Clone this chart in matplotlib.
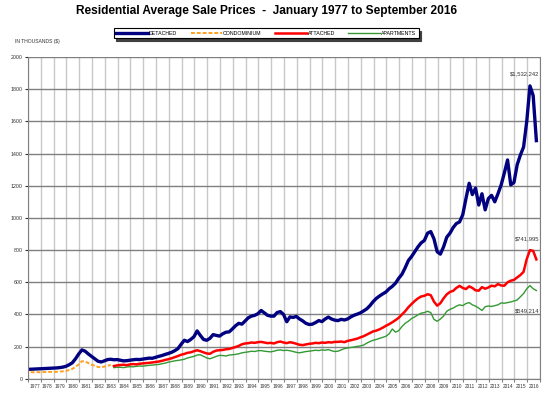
import matplotlib
matplotlib.use("Agg")
import matplotlib.pyplot as plt
import numpy as np

plt.rcParams["font.family"] = ["Liberation Sans", "DejaVu Sans"]

# quarterly averages (thousands $), quarter-end months Mar/Jun/Sep/Dec
detached = [
    60, 61, 62, 63,  64, 65, 66, 67,  68, 70, 73, 78,  88, 100, 125, 155,
    180, 172, 155, 140,  125, 110, 105, 112,  120, 122, 119, 120,  116, 112, 113, 116,
    119, 121, 120, 123,  126, 129, 128, 134,  140, 145, 152, 158,  165, 175, 188, 215,
    240, 232, 245, 262,  298, 270, 245, 240,  252, 275, 270, 266,  280, 290, 292, 310,
    330, 345, 340, 360,  380, 390, 395, 405,  425, 410, 395, 390,  390, 412, 418, 400,
    355, 385, 382, 388,  372, 360, 345, 338,  340, 350, 362, 356,  372, 384, 372, 365,
    362, 370, 366, 372,  385, 395, 402, 410,  422, 435, 455, 480,  500, 515, 528, 540,
    560, 575, 595, 625,  650, 690, 735, 760,  790, 820, 845, 860,  905, 915, 870, 790,
    775, 820, 880, 905,  940, 965, 975, 1020,  1120, 1215, 1145, 1185,  1080, 1150, 1050, 1120,
    1140, 1100, 1150, 1205,  1280, 1360, 1205, 1220,  1330, 1390, 1440, 1600,  1820, 1760, 1480,
]
condominium = [
    42, 41, 42, 41,  43, 42, 44, 43,  44, 45, 47, 50,  55, 62, 75, 90,
    110, 108, 98, 88,  82, 74, 72, 76,  82, 86,
]
attached = [
    80, 84,
    86, 88, 85, 90,  92, 90, 94, 96,  98, 100, 102, 105,  108, 112, 118, 122,
    128, 135, 142, 150,  155, 162, 165, 172,  178, 172, 165, 158,  156, 168, 176, 178,
    180, 184, 186, 192,  198, 205, 215, 220,  222, 226, 224, 228,  230, 226, 222, 224,
    220, 228, 232, 226,  222, 228, 224, 218,  212, 210, 214, 218,  220, 224, 222, 226,
    224, 228, 226, 230,  230, 232, 228, 236,  240, 245, 250, 258,  265, 275, 285, 295,
    300, 308, 318, 330,  340, 352, 365, 380,  400, 420, 445, 465,  484, 500, 512, 516,
    526, 520, 480, 455,  470, 500, 525, 540,  547, 565, 578, 565,  558, 575, 565, 550,
    548, 570, 560, 568,  579, 575, 589, 580,  579, 600, 610, 615,  630, 645, 665, 745,
    800, 795, 742,
]
apartments = [
    70, 72,
    72, 70, 74, 76,  75, 78, 80, 79,  82, 84, 86, 88,  90, 94, 98, 104,
    108, 112, 115, 118,  122, 130, 135, 140,  148, 150, 140, 130,  125, 132, 140, 146,
    145, 142, 148, 150,  152, 156, 162, 165,  168, 172, 170, 175,  176, 172, 170, 168,
    172, 178, 180, 176,  178, 175, 170, 165,  162, 166, 170, 172,  175, 178, 176, 180,
    178, 182, 175, 170,  172, 180, 188, 192,  195, 198, 202, 205,  210, 222, 232, 240,
    245, 252, 258, 265,  280, 310, 290, 300,  325, 345, 358, 375,  385, 398, 408, 412,
    420, 412, 370, 358,  372, 390, 420, 432,  440, 452, 460, 455,  468, 474, 460, 452,
    440, 425, 448, 453,  450, 455, 460, 472,  470, 474, 478, 484,  490, 510, 530, 560,
    580, 560, 549,
]

years = list(range(1977, 2017))
end_labels = ["$1,532,242", "$741,995", "$549,214"]


def quarter_times(start_year, start_q, n):
    # decimal year at the end month of each quarter
    q = np.arange(n) + start_q
    return start_year + (3 * q + 2.5) / 12


t_det = quarter_times(1977, 0, len(detached))
t_condo = quarter_times(1977, 0, len(condominium))
t_att = quarter_times(1983, 2, len(attached))
t_apt = quarter_times(1983, 2, len(apartments))

fig = plt.figure(figsize=(5.5, 3.98), dpi=100)
ax = fig.add_axes([0.051, 0.048, 0.931, 0.809])

ax.plot(t_det, detached, color="#000080", lw=2.4, label="DETACHED", zorder=5)
ax.plot(t_condo, condominium, color="#FFA020", lw=1.4, ls=(0, (2, 1)), label="CONDOMINIUM", zorder=4)
ax.plot(t_att, attached, color="#FF0000", lw=1.8, label="ATTACHED", zorder=4)
ax.plot(t_apt, apartments, color="#339933", lw=1.0, label="APARTMENTS", zorder=3)

ax.set_xlim(1977, 2017)
ax.set_ylim(0, 2000)
ax.set_yticks(np.arange(0, 2001, 200))
ax.set_yticklabels([str(v) for v in range(0, 2001, 200)])
ax.set_xticks(np.arange(1977, 2018), minor=False)
ax.set_xticklabels([])
ax.set_xticks(np.array(years) + 0.5, minor=True)
ax.set_xticklabels([str(y) for y in years], minor=True)
ax.tick_params(axis="x", which="minor", length=0, labelsize=3.4, pad=4, colors="#333333")
ax.tick_params(axis="x", which="major", length=2, color="#808080")
ax.tick_params(axis="y", length=2, labelsize=3.8, pad=2, colors="#333333")

ax.grid(axis="y", color="#808080", lw=1.0, zorder=0)
ax.grid(axis="x", which="major", color="#c8c8c8", lw=1.0, zorder=0)
ax.set_axisbelow(True)
for side in ["top"]:
    ax.spines[side].set_visible(False)
for side in ["left", "bottom", "right"]:
    ax.spines[side].set_color("#808080")

ax.text(2016.95, 1895, end_labels[0], ha="right", va="center", fontsize=4.2, color="#333333")
ax.text(2016.95, 872, end_labels[1], ha="right", va="center", fontsize=4.2, color="#333333")
ax.text(2016.95, 420, end_labels[2], ha="right", va="center", fontsize=4.2, color="#333333")

fig.text(0.484, 0.972, "Residential Average Sale Prices  -  January 1977 to September 2016",
         ha="center", va="center", fontsize=8.6, fontweight="bold")
fig.text(0.028, 0.895, "IN THOUSANDS ($)", ha="left", va="center", fontsize=3.6, color="#333333")

leg = ax.legend(loc="center", bbox_to_anchor=(0.484, 0.917), bbox_transform=fig.transFigure,
                ncol=4, fontsize=3.8, handlelength=6, columnspacing=2.5, handletextpad=0.2,
                fancybox=False, shadow={"color": "#404040", "alpha": 1.0}, framealpha=1,
                edgecolor="black", borderpad=0.5)
leg.get_frame().set_linewidth(0.8)

fig.savefig("out.png", dpi=100)
